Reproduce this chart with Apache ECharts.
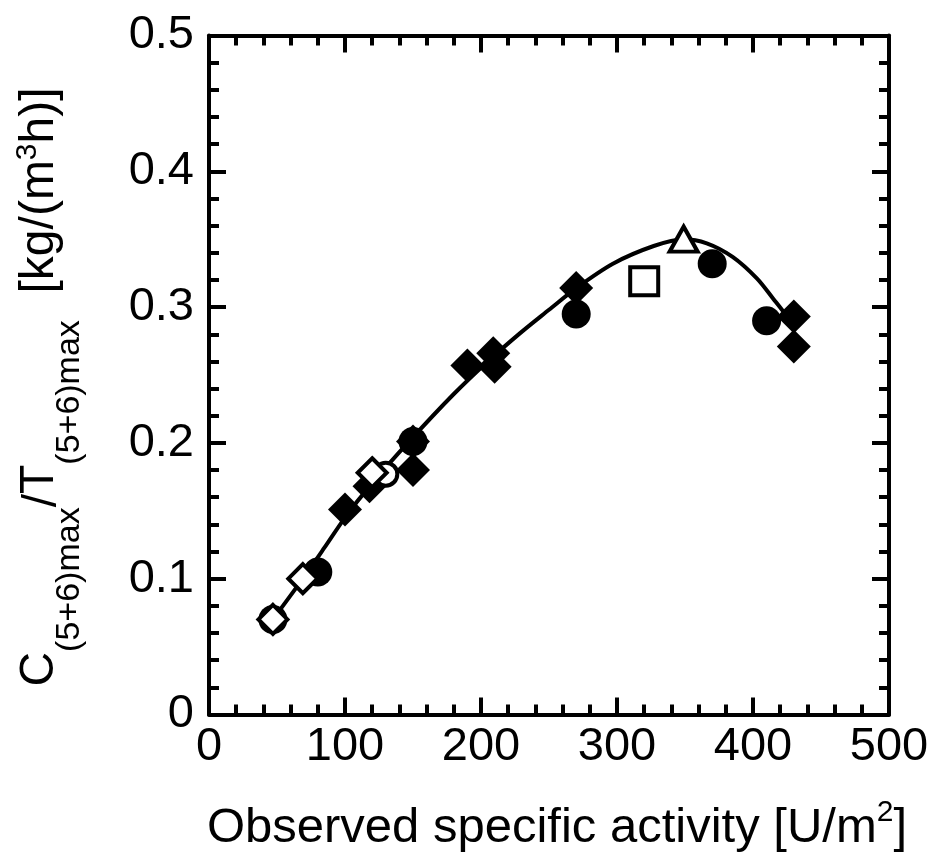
<!DOCTYPE html>
<html>
<head>
<meta charset="utf-8">
<script src="https://cdn.jsdelivr.net/npm/echarts@6/dist/echarts.min.js"></script>
<style>
html,body{margin:0;padding:0;background:#fff;}
#chart{width:936px;height:854px;}
</style>
</head>
<body>
<div id="chart"></div>
<script>
// ---- data ----
const xTicks = [0, 100, 200, 300, 400, 500];
const yTicks = [0, 0.1, 0.2, 0.3, 0.4, 0.5];

// fitted curve
const curveX = [47, 69, 85, 100, 118, 148, 180, 205, 229, 250, 270, 297, 327, 349, 366, 385, 403, 415, 425, 431];
const curveY = [0.070, 0.100, 0.123, 0.145, 0.168, 0.202, 0.236, 0.260, 0.281, 0.298, 0.314, 0.332, 0.345, 0.350, 0.347, 0.337, 0.321, 0.306, 0.293, 0.283];

const filledCircleX = [47, 80, 150, 270, 370, 410];
const filledCircleY = [0.070, 0.105, 0.201, 0.295, 0.332, 0.290];

const filledDiamondX = [100, 118, 150, 150, 190, 209, 210, 270, 430, 430];
const filledDiamondY = [0.151, 0.168, 0.201, 0.180, 0.257, 0.266, 0.256, 0.314, 0.293, 0.271];

const openCircleX = [130];
const openCircleY = [0.177];

const openSquareX = [320];
const openSquareY = [0.319];

const openTriangleX = [349];
const openTriangleY = [0.350];

const openDiamondX = [47, 69, 120];
const openDiamondY = [0.070, 0.100, 0.178];

function zip(xs, ys) { return xs.map((x, i) => [x, ys[i]]); }

const FONT = 'Liberation Sans';
const BLACK = '#000';

function axisCommon(showLabel) {
  return {
    axisLine: { show: true, onZero: false, lineStyle: { color: BLACK, width: 4 } },
    axisTick: { show: true, inside: true, length: 17, lineStyle: { color: BLACK, width: 4 } },
    minorTick: { show: true, splitNumber: 5, length: 10, lineStyle: { color: BLACK, width: 4 } },
    splitLine: { show: false },
    minorSplitLine: { show: false },
    axisLabel: { show: showLabel, fontFamily: FONT, fontSize: 47, color: BLACK }
  };
}

// rich-text helpers: every token shares the line height; padding shifts sub/superscripts
function tok(size, lh, shift) {
  // shift > 0 moves the token down (subscript), < 0 up (superscript)
  const s = { fontFamily: FONT, fontSize: size, color: BLACK, lineHeight: lh, verticalAlign: 'middle' };
  if (shift > 0) s.padding = [2 * shift, 0, 0, 0];
  else if (shift < 0) s.padding = [0, 0, -2 * shift, 0];
  return s;
}

const xMain = Object.assign({
  type: 'value', min: xTicks[0], max: xTicks[xTicks.length - 1], interval: xTicks[1] - xTicks[0],
  position: 'bottom',
  name: '{m|Observed specific activity [U/m}{sup|2}{m|]}',
  nameLocation: 'middle', nameGap: 83.5,
  nameTextStyle: {
    padding: [0, 0, 0, 16],
    rich: {
      m: tok(49, 60, 0),
      sup: tok(30, 60, -15)
    }
  }
}, axisCommon(true));
xMain.axisLabel.margin = 9;

const xTop = Object.assign({
  type: 'value', min: xTicks[0], max: xTicks[xTicks.length - 1], interval: xTicks[1] - xTicks[0],
  position: 'top'
}, axisCommon(false));

const yMain = Object.assign({
  type: 'value', min: yTicks[0], max: yTicks[yTicks.length - 1], interval: yTicks[1] - yTicks[0],
  position: 'left',
  name: '{m|C}{sub|(5+6)max}{sl|/}{m|T}{sub|(5+6)max}{m|  [kg/(m}{sup|3}{m|h)]}',
  nameLocation: 'middle', nameRotate: 90, nameGap: 124,
  nameTextStyle: {
    padding: [0, 24, 0, 0],
    rich: {
      m: tok(48, 90, 0),
      sub: tok(34, 90, 30),
      sup: tok(30, 90, -12),
      sl: tok(48, 90, 3)
    }
  }
}, axisCommon(true));
yMain.axisLabel.margin = 15;

const yRight = Object.assign({
  type: 'value', min: yTicks[0], max: yTicks[yTicks.length - 1], interval: yTicks[1] - yTicks[0],
  position: 'right'
}, axisCommon(false));

const chart = echarts.init(document.getElementById('chart'), null, { renderer: 'canvas' });
chart.setOption({
  backgroundColor: '#fff',
  animation: false,
  grid: { left: 209, right: 47, top: 35.5, bottom: 139.5, containLabel: false, outerBoundsMode: 'none' },
  xAxis: [xMain, xTop],
  yAxis: [yMain, yRight],
  series: [
    {
      type: 'line', data: zip(curveX, curveY), smooth: 0.3, showSymbol: false, symbol: 'none',
      lineStyle: { color: BLACK, width: 4 }, z: 1
    },
    {
      type: 'scatter', data: zip(filledCircleX, filledCircleY), symbol: 'circle', symbolSize: 29,
      itemStyle: { color: BLACK, opacity: 1 }, z: 2
    },
    {
      type: 'scatter', data: zip(filledDiamondX, filledDiamondY), symbol: 'diamond', symbolSize: 34,
      itemStyle: { color: BLACK, opacity: 1 }, z: 3
    },
    {
      type: 'scatter', data: zip(openCircleX, openCircleY), symbol: 'circle', symbolSize: 23,
      itemStyle: { color: '#fff', borderColor: BLACK, borderWidth: 4, opacity: 1 }, z: 4
    },
    {
      type: 'scatter', data: zip(openSquareX, openSquareY), symbol: 'rect', symbolSize: 28,
      itemStyle: { color: '#fff', borderColor: BLACK, borderWidth: 4, opacity: 1 }, z: 4
    },
    {
      type: 'scatter', data: zip(openTriangleX, openTriangleY), symbol: 'triangle', symbolSize: [28, 25],
      itemStyle: { color: '#fff', borderColor: BLACK, borderWidth: 4, opacity: 1 }, z: 4
    },
    {
      type: 'scatter', data: zip(openDiamondX, openDiamondY), symbol: 'diamond', symbolSize: 29,
      itemStyle: { color: '#fff', borderColor: BLACK, borderWidth: 4, opacity: 1 }, z: 5
    }
  ]
});
</script>
</body>
</html>
